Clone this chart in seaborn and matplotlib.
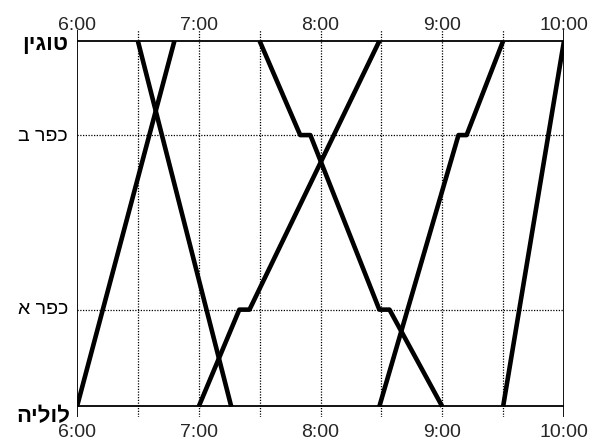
import matplotlib
matplotlib.use("Agg")
import matplotlib.pyplot as plt
import matplotlib.transforms as mtransforms
import pandas as pd
import seaborn as sns

# stations, from bottom to top, and their distance along the line (km)
stations = ["לוליה", "כפר א", "כפר ב", "טוגין"]
station_km = [0, 5.3, 14.85, 20]

# every train: the times it passes a point and the station index there
train_1_times = ["6:00", "6:48"]
train_1_stops = [0, 3]
train_2_times = ["6:30", "7:16"]
train_2_stops = [3, 0]
train_3_times = ["7:00", "7:20", "7:25", "8:29"]
train_3_stops = [0, 1, 1, 3]
train_4_times = ["7:30", "7:50", "7:55", "8:29", "8:34", "9:00"]
train_4_stops = [3, 2, 2, 1, 1, 0]
train_5_times = ["8:29", "9:08", "9:12", "9:30"]
train_5_stops = [0, 2, 2, 3]
train_6_times = ["9:30", "10:00"]
train_6_stops = [0, 3]

hour_labels = ["6:00", "7:00", "8:00", "9:00", "10:00"]


def to_hours(t):
    h, m = t.split(":")
    return int(h) + int(m) / 60


trains = [
    (train_1_times, train_1_stops),
    (train_2_times, train_2_stops),
    (train_3_times, train_3_stops),
    (train_4_times, train_4_stops),
    (train_5_times, train_5_stops),
    (train_6_times, train_6_stops),
]
rows = []
for i, (times, stops) in enumerate(trains):
    for order, (t, s) in enumerate(zip(times, stops)):
        rows.append({"train": i, "order": order, "hour": to_hours(t), "km": station_km[s]})
df = pd.DataFrame(rows)

sns.set_theme(style="white")
plt.rcParams["font.family"] = ["Liberation Sans", "DejaVu Sans"]

fig = plt.figure(figsize=(5.9, 4.45), dpi=100)
ax = fig.add_axes([77 / 590, 28 / 445, 487 / 590, 387 / 445])

x_min, x_max = to_hours(hour_labels[0]), to_hours(hour_labels[-1])
y_min, y_max = -0.575, 20.6

# dotted grid: half hours and the middle stations
half_hours = [x_min + 0.5 * k for k in range(1, int((x_max - x_min) * 2))]
ax.vlines(half_hours, y_min, y_max, colors="black", linestyles=(0, (1, 1.2)), linewidth=0.9)
ax.hlines(station_km[1:3], x_min, x_max, colors="black", linestyles=(0, (1, 1.2)), linewidth=0.9)
# solid frame lines
ax.vlines([x_min, x_max], y_min, y_max, colors="black", linewidth=1.3)
ax.hlines([station_km[0], station_km[-1]], x_min, x_max, colors="black", linewidth=1.3)

sns.lineplot(data=df, x="hour", y="km", hue="train", units="train", estimator=None,
             sort=False, palette=["black"] * len(trains), legend=False,
             linewidth=3.3, solid_capstyle="butt", ax=ax)

ax.set_xlim(x_min, x_max)
ax.set_ylim(y_min, y_max)
for s in ax.spines.values():
    s.set_visible(False)

ax.set_xticks([to_hours(h) for h in hour_labels])
ax.set_xticklabels(hour_labels)
ax.tick_params(axis="x", length=0, labelsize=14, pad=5)
ax.set_yticks([])
ax.set_xlabel("")
ax.set_ylabel("")

top = ax.secondary_xaxis("top")
top.set_xticks([to_hours(h) for h in hour_labels])
top.set_xticklabels(hour_labels)
top.tick_params(length=0, labelsize=14, pad=-3)
for s in top.spines.values():
    s.set_visible(False)

# station names (reversed so the Hebrew reads right to left)
label_style = [
    (70, 16, "bold", 10),
    (68, 14, "normal", 0),
    (68, 14, "normal", 1),
    (68, 16, "bold", 4),
]
base = ax.get_yaxis_transform()
for name, km, (px, size, weight, dy) in zip(stations, station_km, label_style):
    off = mtransforms.ScaledTranslation(0, -dy / 100, fig.dpi_scale_trans)
    ax.text((px - 77) / 487, km, name[::-1], transform=base + off,
            ha="right", va="center", fontsize=size, fontweight=weight,
            color="black", clip_on=False)

fig.savefig("out.png", dpi=100)
